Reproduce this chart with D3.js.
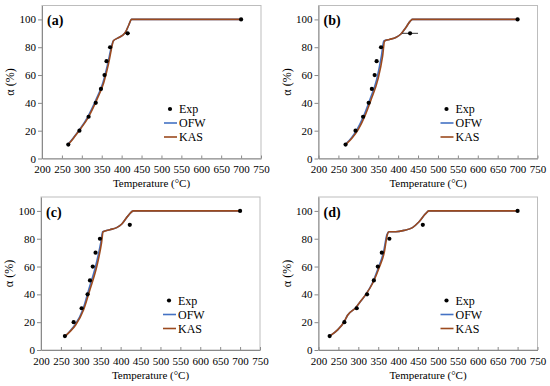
<html lang="en">
<head>
<title>Conversion vs temperature</title>
<style>
  body { margin: 0; background: #fff; }
</style>
</head>
<body>
<svg id="chart" width="550" height="386"></svg>
<script src="https://d3js.org/d3.v7.min.js"></script>
<script>
// experimental points: conversion levels shared by all four panels
var expAlpha = [10, 20, 30, 40, 50, 60, 70, 80, 90, 100];

var expT_a = [266, 294, 317, 335, 348, 357, 362, 371, 415, 700];
var expT_b = [268, 293, 312, 326, 334, 341, 346, 357, 430, 700];
var expT_c = [260, 282, 302, 317, 323, 330, 337, 348, 423, 700];
var expT_d = [228, 265, 296, 322, 339, 349, 359, 378, 462, 700];
// horizontal error on the 90 % point
var xErr = [6, 20, 0, 0];

// KAS model curves
var kasT_a = [266, 280, 296, 317, 338, 355, 367, 376, 379, 390, 402, 410, 418, 425, 700];
var kasA_a = [10, 15, 21, 30, 42.5, 54.5, 68, 81, 84.5, 86.5, 88.5, 91, 96, 100, 100];
var kasT_b = [268, 285, 300, 316, 332, 349, 361, 366, 378, 394, 407, 419, 431, 436, 700];
var kasA_b = [10, 15, 21, 30.3, 42.3, 56.7, 73.6, 84.5, 85.6, 87, 89.5, 94, 99, 100, 100];
var kasT_c = [261, 272, 287, 307, 323, 340, 352, 356, 373, 390, 403, 419, 432, 700];
var kasA_c = [10, 13, 18, 29, 43.5, 60, 77, 85, 86.5, 88, 90.6, 96.6, 100, 100];
var kasT_d = [228, 248, 265, 273, 294, 303, 319, 336, 352, 365, 373, 377, 394, 415, 436, 452, 469, 477, 700];
var kasA_d = [10, 14.5, 20.5, 25, 30.5, 34, 40, 48, 59, 70, 83, 85, 85, 86, 88, 92, 98, 100, 100];

// OFW model curves (almost on top of KAS)
var ofwT_a = [265, 279, 295, 315, 336, 353, 365, 375, 379, 390, 402, 410, 418, 425, 700];
var ofwA_a = [10, 15, 21, 30, 42.5, 54.5, 68, 81, 84.5, 86.5, 88.5, 91, 96, 100, 100];
var ofwT_b = [267, 283, 297, 313, 329, 346, 358, 364, 378, 394, 407, 419, 431, 436, 700];
var ofwA_b = [10, 15, 21, 30.3, 42.3, 56.7, 73.6, 84.5, 85.6, 87, 89.5, 94, 99, 100, 100];
var ofwT_c = [261, 271, 285, 305, 320, 337, 350, 355, 373, 390, 403, 419, 432, 700];
var ofwA_c = [10, 13, 18, 29, 43.5, 60, 77, 85, 86.5, 88, 90.6, 96.6, 100, 100];
var ofwT_d = [228, 248, 265, 273, 294, 303, 319, 335, 350, 363, 372, 377, 394, 415, 436, 452, 469, 477, 700];
var ofwA_d = [10, 14.5, 20.5, 25, 30.5, 34, 40, 48, 59, 70, 83, 85, 85, 86, 88, 92, 98, 100, 100];

var panelLabels = ["(a)", "(b)", "(c)", "(d)"];
var xTicks = [200, 250, 300, 350, 400, 450, 500, 550, 600, 650, 700, 750];
var yTicks = [0, 20, 40, 60, 80, 100];
var legendNames = ["Exp", "OFW", "KAS"];

var ofwColor = "#4472c4";
var kasColor = "#9c4a1e";
var serif = "'Liberation Serif', 'DejaVu Serif', serif";

var panels = [
  { label: panelLabels[0], left: 42, top: 5.5, expT: expT_a, err: xErr[0], kasT: kasT_a, kasA: kasA_a, ofwT: ofwT_a, ofwA: ofwA_a },
  { label: panelLabels[1], left: 318.5, top: 5.5, expT: expT_b, err: xErr[1], kasT: kasT_b, kasA: kasA_b, ofwT: ofwT_b, ofwA: ofwA_b },
  { label: panelLabels[2], left: 41, top: 197, expT: expT_c, err: xErr[2], kasT: kasT_c, kasA: kasA_c, ofwT: ofwT_c, ofwA: ofwA_c },
  { label: panelLabels[3], left: 318.5, top: 197, expT: expT_d, err: xErr[3], kasT: kasT_d, kasA: kasA_d, ofwT: ofwT_d, ofwA: ofwA_d }
];
var w = 219, h = 153;

var svg = d3.select("#chart");

panels.forEach(function(p) {
  var g = svg.append("g").attr("transform", "translate(" + p.left + "," + p.top + ")");
  var x = d3.scaleLinear().domain([200, 750]).range([0, w]);
  var y = d3.scaleLinear().domain([0, 110]).range([h, 0]);

  // frame
  g.append("rect").attr("width", w).attr("height", h)
    .attr("fill", "none").attr("stroke", "#bdbdbd").attr("stroke-width", 1);

  var xa = g.append("g").attr("transform", "translate(0," + h + ")")
    .call(d3.axisBottom(x).tickValues(xTicks).tickSizeInner(-3).tickSizeOuter(0).tickPadding(7));
  var ya = g.append("g")
    .call(d3.axisLeft(y).tickValues(yTicks).tickSizeInner(4).tickSizeOuter(0).tickPadding(2));
  [xa, ya].forEach(function(a) {
    a.attr("font-family", null);
    a.select(".domain").attr("stroke", "#8a8a8a");
    a.selectAll(".tick line").attr("stroke", "#8a8a8a");
    a.selectAll("text").style("font-size", "11px").attr("fill", "#000");
  });

  var line = d3.line().curve(d3.curveMonotoneX)
    .x(function(d) { return x(d[0]); })
    .y(function(d) { return y(d[1]); });

  g.append("path").datum(d3.zip(p.ofwT, p.ofwA))
    .attr("d", line).attr("fill", "none").attr("stroke", ofwColor).attr("stroke-width", 1.6);
  g.append("path").datum(d3.zip(p.kasT, p.kasA))
    .attr("d", line).attr("fill", "none").attr("stroke", kasColor).attr("stroke-width", 1.6);

  var pts = d3.zip(p.expT, expAlpha);
  if (p.err > 0) {
    g.append("line")
      .attr("x1", x(pts[8][0] - p.err)).attr("x2", x(pts[8][0] + p.err))
      .attr("y1", y(pts[8][1])).attr("y2", y(pts[8][1]))
      .attr("stroke", "#000").attr("stroke-width", 0.8);
  }
  g.selectAll(".pt").data(pts).enter().append("circle")
    .attr("cx", function(d) { return x(d[0]); })
    .attr("cy", function(d) { return y(d[1]); })
    .attr("r", 2.1).attr("fill", "#000");

  g.append("text").attr("x", 5).attr("y", 19.5)
    .style("font-size", "14px").style("font-weight", "bold").text(p.label);

  // legend
  var lg = g.append("g").attr("transform", "translate(" + (w - 97) + "," + (h - 49.5) + ")");
  lg.append("circle").attr("cx", 6).attr("cy", 0).attr("r", 2.1).attr("fill", "#000");
  lg.append("line").attr("x1", 0).attr("x2", 13).attr("y1", 14).attr("y2", 14)
    .attr("stroke", ofwColor).attr("stroke-width", 1.6);
  lg.append("line").attr("x1", 0).attr("x2", 13).attr("y1", 28).attr("y2", 28)
    .attr("stroke", kasColor).attr("stroke-width", 1.6);
  legendNames.forEach(function(n, i) {
    lg.append("text").attr("x", 15).attr("y", i * 14).attr("dy", "0.35em")
      .style("font-size", "12px").text(n);
  });

  g.append("text").attr("x", w / 2).attr("y", h + 28.5)
    .attr("text-anchor", "middle").style("font-size", "11px").text("Temperature (°C)");
  g.append("text")
    .attr("transform", "translate(-32," + (h / 2) + ") rotate(-90)")
    .attr("text-anchor", "middle").attr("dy", "0.35em")
    .style("font-size", "12px").text("α (%)");
});

svg.selectAll("text").style("font-family", serif).attr("fill", "#000");
</script>
</body>
</html>
